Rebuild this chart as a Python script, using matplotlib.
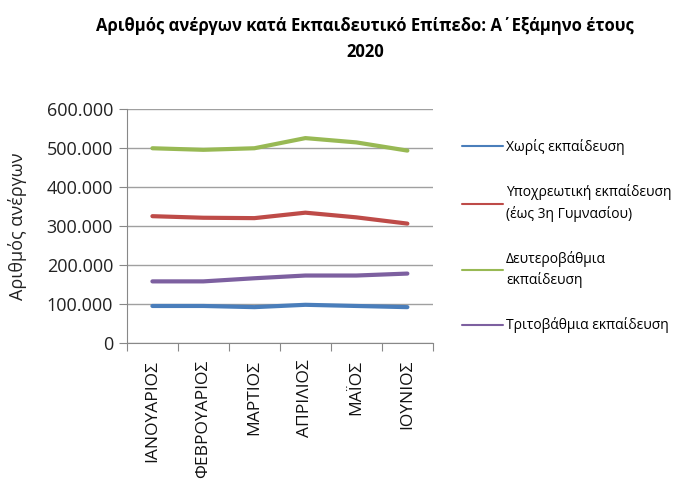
import matplotlib
matplotlib.use("Agg")
import matplotlib.pyplot as plt
from matplotlib.ticker import FuncFormatter, FixedLocator
import numpy as np

plt.rcParams['font.family'] = ['Open Sans', 'DejaVu Sans']

months = ["ΙΑΝΟΥΑΡΙΟΣ", "ΦΕΒΡΟΥΑΡΙΟΣ", "ΜΑΡΤΙΟΣ", "ΑΠΡΙΛΙΟΣ", "ΜΑΪΟΣ", "ΙΟΥΝΙΟΣ"]
no_edu = [95000, 95000, 92000, 98000, 95000, 92000]
compulsory = [325000, 321000, 320000, 334000, 322000, 306000]
secondary = [499000, 495000, 499000, 525000, 514000, 493000]
tertiary = [158000, 158000, 166000, 173000, 173000, 178000]

labels = ["Χωρίς εκπαίδευση",
          "Υποχρεωτική εκπαίδευση\n(έως 3η Γυμνασίου)",
          "Δευτεροβάθμια\nεκπαίδευση",
          "Τριτοβάθμια εκπαίδευση"]
colors = ["#4A7EBB", "#BE4B48", "#98B954", "#7D60A0"]
series = [no_edu, compulsory, secondary, tertiary]

fig = plt.figure(figsize=(6.86, 4.88), dpi=100)
ax = fig.add_axes([0.185, 0.297, 0.446, 0.480])

x = np.arange(len(months))
handles = []
for vals, lab, col in zip(series, labels, colors):
    h, = ax.plot(x, vals, color=col, lw=3.0, label=lab, solid_capstyle='round')
    handles.append(h)

ax.set_xlim(-0.5, len(months) - 0.5)
ax.set_ylim(0, 600000)
ax.set_yticks(np.arange(0, 600001, 100000))
ax.yaxis.set_major_formatter(FuncFormatter(lambda v, p: f"{int(v):,}".replace(",", ".")))
ax.xaxis.set_major_locator(FixedLocator(np.arange(-0.5, len(months), 1.0)))
ax.set_xticklabels([])
ax.set_xticks(x, minor=True)
ax.set_xticklabels(months, minor=True, rotation=90, fontsize=12.5, color="#111111")
ax.tick_params(axis='x', which='minor', length=0, pad=12)
ax.tick_params(axis='x', which='major', length=6, color="#888888", direction='out')
ax.tick_params(axis='y', length=6, color="#888888", labelsize=13, labelcolor="#222222", pad=4)
ax.grid(axis='y', color="#A0A0A0", lw=1)
ax.set_axisbelow(True)
for s in ['top', 'right']:
    ax.spines[s].set_visible(False)
for s in ['left', 'bottom']:
    ax.spines[s].set_color("#888888")
ax.set_ylabel("Αριθμός ανέργων", fontsize=13, color="#222222", labelpad=14)

fig.text(0.532, 0.965, "Αριθμός ανέργων κατά Εκπαιδευτικό Επίπεδο: Α΄Εξάμηνο έτους\n2020",
         ha='center', va='top', fontsize=12, fontweight='bold', linespacing=1.55)

leg = fig.legend(handles=handles, labels=labels, loc='upper left',
                 bbox_to_anchor=(0.674, 0.715), frameon=False, fontsize=10,
                 borderpad=0, borderaxespad=0,
                 handlelength=2.9, handletextpad=0.25, labelspacing=2.1)
for l in leg.get_lines():
    l.set_linewidth(1.5)
for t in leg.get_texts():
    t.set_linespacing(1.45)

fig.savefig("out.png", dpi=100)
